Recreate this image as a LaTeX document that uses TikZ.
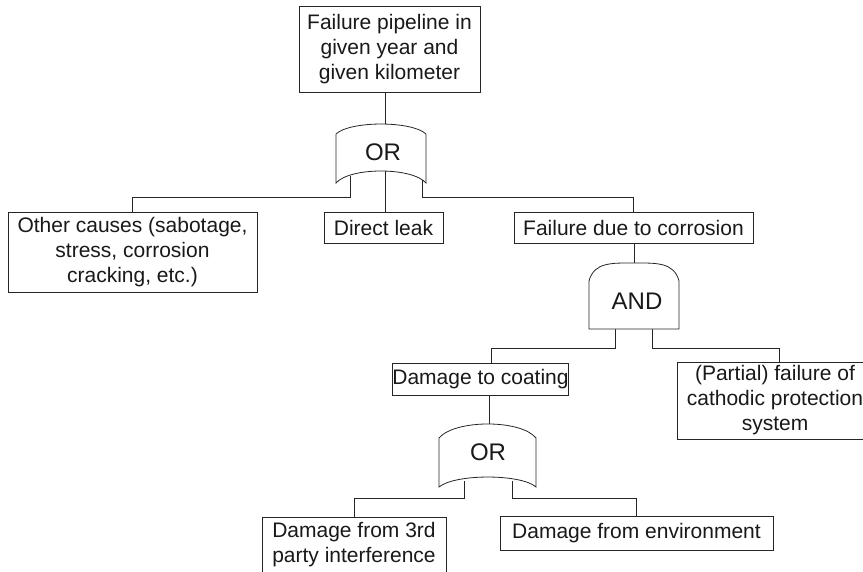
\documentclass[tikz,border=0pt]{standalone}
\usepackage{fontspec}
\setmainfont{Liberation Sans}
\tikzset{
 ev/.style={draw=black!85, line width=0.8pt, fill=white, align=center,
   font=\fontsize{21}{25}\selectfont, inner sep=0pt, text=black!90},
 gate/.style={draw=black!85, line width=0.8pt, fill=white},
 conn/.style={draw=black!85, line width=0.8pt},
 gtext/.style={font=\fontsize{24}{28}\selectfont, inner sep=0pt, text=black!90}
}
\begin{document}
\begin{tikzpicture}[x=1pt,y=-1pt]
\useasboundingbox (0,0) rectangle (863,571);
% event boxes
\node[ev, minimum width=181pt, minimum height=86pt] (top) at (389.5,49) {Failure pipeline in\\given year and\\given kilometer};
\node[ev, minimum width=249pt, minimum height=80pt] (other) at (132.5,252) {Other causes (sabotage,\\stress, corrosion\\cracking, etc.)};
\node[ev, minimum width=119pt, minimum height=31pt] (direct) at (383.5,227.5) {Direct leak};
\node[ev, minimum width=239pt, minimum height=31pt] (corr) at (633.5,227.5) {Failure due to corrosion};
\node[ev, minimum width=175pt, minimum height=32pt] (coat) at (480.5,379) {Damage to coating};
\node[ev, minimum width=196pt, minimum height=77pt] (part) at (775,400.5) {(Partial) failure of\\cathodic protection\\system};
\node[ev, minimum width=184pt, minimum height=56pt] (third) at (354,545) {Damage from 3rd\\party interference};
\node[ev, minimum width=273pt, minimum height=34pt] (env) at (636.5,533) {Damage from environment};
% gate anchor coordinates
\coordinate (g1in) at (385,124);
\coordinate (g1l) at (350,176);
\coordinate (g1c) at (385,171);
\coordinate (g1r) at (422,176);
\coordinate (bus1) at (0,197);
\coordinate (andin) at (634,263);
\coordinate (al) at (615,325);
\coordinate (ar) at (652,325);
\coordinate (bus2) at (0,348);
\coordinate (g2in) at (489,424);
\coordinate (g2l) at (464,481);
\coordinate (g2r) at (512,481);
\coordinate (bus3) at (0,498);
% connectors
\draw[conn] (g1in |- top.south) -- (g1in);
\draw[conn] (g1l) -- (g1l |- bus1) -| (other.north);
\draw[conn] (g1c) -- (g1c |- direct.north);
\draw[conn] (g1r) -- (g1r |- bus1) -| (corr.north);
\draw[conn] (andin |- corr.south) -- (andin);
\draw[conn] (al) -- (al |- bus2) -| ([xshift=10.5pt]coat.north);
\draw[conn] (ar) -- (ar |- bus2) -| ([xshift=4pt]part.north);
\draw[conn] (g2in |- coat.south) -- (g2in);
\draw[conn] (g2l) -- (g2l |- bus3) -| (third.north);
\draw[conn] (g2r) -- (g2r |- bus3) -| (env.north);
% gates
\path[gate] (336,134) .. controls (350,120.7) and (412,120.7) .. (426,134) -- (426,183)
   .. controls (412,167) and (350,167) .. (336,183) -- cycle;
\node[gtext] (or1) at (383,152) {OR};
\path[gate] (589,281) .. controls (594,262) and (612,263) .. (634,263)
   .. controls (656,263) and (674,262) .. (679,281) -- (679,329) -- (589,329) -- cycle;
\node[gtext] (and) at (637,301) {AND};
\path[gate] (439,438) .. controls (455,419.3) and (521,419.3) .. (536,438) -- (536,487)
   .. controls (521,473.7) and (455,473.7) .. (439,487) -- cycle;
\node[gtext] (or2) at (488,452) {OR};
\end{tikzpicture}
\end{document}
